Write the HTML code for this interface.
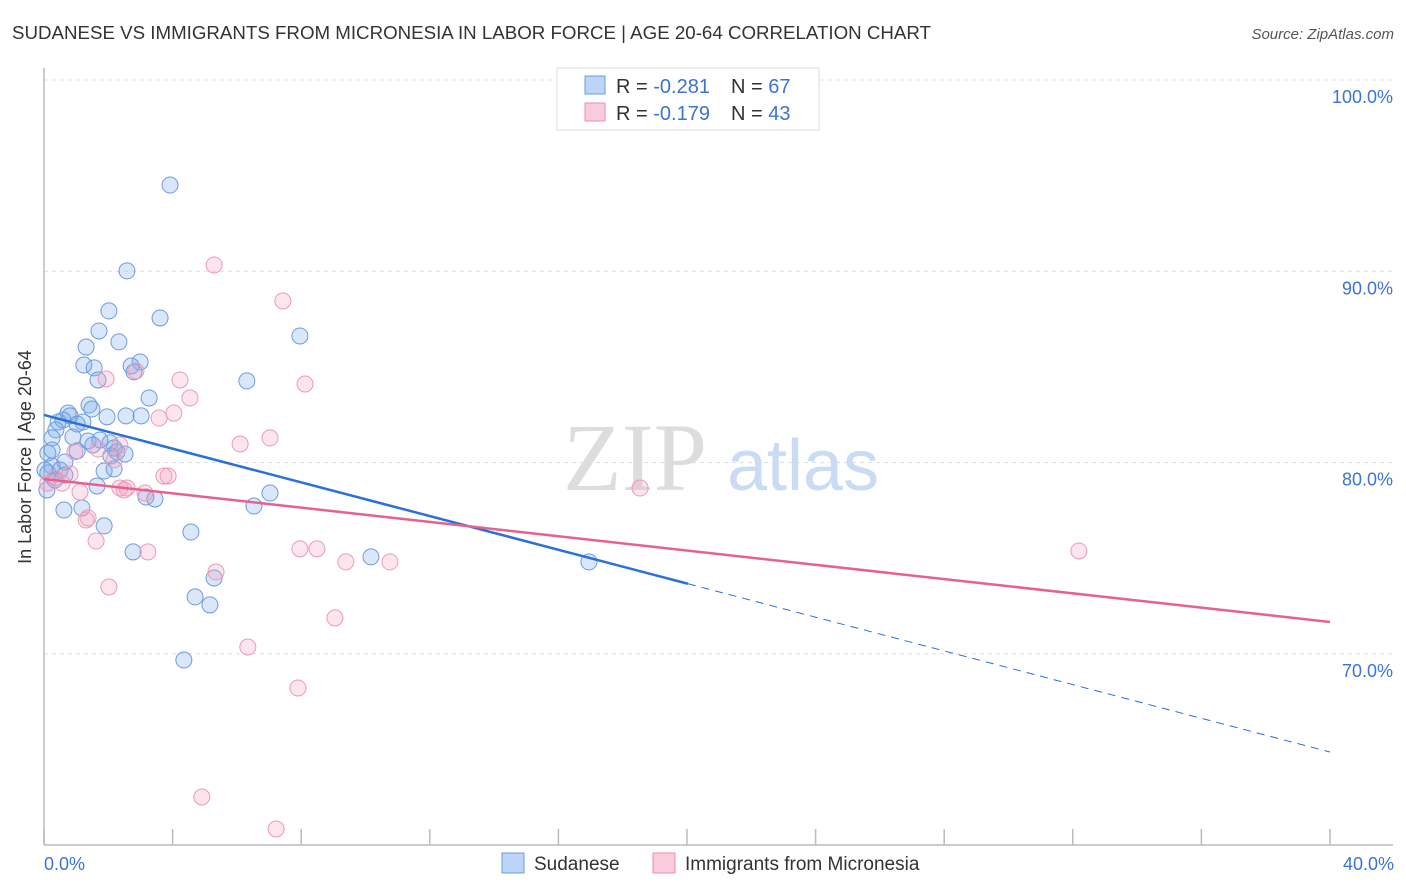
<!DOCTYPE html>
<html><head><meta charset="utf-8"><style>
body{margin:0;background:#fff;font-family:"Liberation Sans",sans-serif}
svg{display:block}
</style></head><body>
<svg width="1406" height="892">
<text x="12" y="39" font-size="18" fill="#333" textLength="919" lengthAdjust="spacingAndGlyphs">SUDANESE VS IMMIGRANTS FROM MICRONESIA IN LABOR FORCE | AGE 20-64 CORRELATION CHART</text>
<text x="1394" y="39" font-size="15" fill="#555" font-style="italic" text-anchor="end">Source: ZipAtlas.com</text>
<g id="grid"></g>
<g><text x="635" y="490" font-size="96" fill="#ddd" font-family="Liberation Serif,serif" text-anchor="middle">ZIP</text><text x="803" y="490" font-size="72" fill="#c9dcf3" text-anchor="middle">atlas</text></g>
<line x1="44" y1="68" x2="44" y2="845" stroke="#bbb" stroke-width="1.5"/>
<line x1="44" y1="845" x2="1393" y2="845" stroke="#bbb" stroke-width="1.5"/>
<g id="ticks"></g>
<g id="pts"></g>
<g id="trends"></g>
<text x="31" y="457" font-size="18" fill="#333" text-anchor="middle" transform="rotate(-90 31 457)">In Labor Force | Age 20-64</text>
<text x="44" y="870" font-size="18" fill="#3b73d6">0.0%</text>
<text x="1394" y="870" font-size="18" fill="#3b73d6" text-anchor="end">40.0%</text>
<g>
<rect x="557" y="68" width="262" height="62" fill="#fff" stroke="#ddd"/>
<rect x="585" y="76" width="20" height="18" fill="#bcd4f5" stroke="#6a9be0"/>
<rect x="585" y="103" width="20" height="18" fill="#f9ccd9" stroke="#eb8fad"/>
<text x="616" y="93" font-size="20" fill="#333">R = <tspan fill="#3b73d6">-0.281</tspan></text>
<text x="731" y="93" font-size="20" fill="#333">N = <tspan fill="#3b73d6">67</tspan></text>
<text x="616" y="120" font-size="20" fill="#333">R = <tspan fill="#3b73d6">-0.179</tspan></text>
<text x="731" y="120" font-size="20" fill="#333">N = <tspan fill="#3b73d6">43</tspan></text>
</g>
<g>
<rect x="502" y="853" width="22" height="20" fill="#bcd4f5" stroke="#6a9be0"/>
<text x="534" y="870" font-size="19" fill="#333">Sudanese</text>
<rect x="653" y="853" width="22" height="20" fill="#f9ccd9" stroke="#eb8fad"/>
<text x="685" y="870" font-size="19" fill="#333">Immigrants from Micronesia</text>
</g>
</svg>
<script>
const blueX=[3.92,2.58,2.02,3.61,1.71,7.96,2.33,1.31,1.24,1.56,2.99,2.71,2.80,1.68,6.31,3.27,1.40,1.49,0.75,0.81,0.59,0.44,1.21,1.03,1.96,2.55,3.02,0.37,0.25,0.90,1.37,1.52,2.05,2.18,2.27,0.12,1.03,2.08,0.65,0.25,1.87,2.18,0.12,0.09,1.65,3.17,3.45,7.03,6.53,0.62,1.18,1.87,4.57,2.77,10.17,16.95,5.29,4.70,5.16,4.35,0.03,0.50,0.34,2.52,0.65,0.25,1.74];
const blueY=[94.51,90.02,87.93,87.56,86.88,86.62,86.31,86.04,85.10,84.95,85.26,85.05,84.74,84.32,84.27,83.38,83.01,82.80,82.59,82.44,82.23,82.12,82.12,82.02,82.39,82.44,82.44,81.71,81.29,81.34,81.13,80.92,81.03,80.76,80.56,80.50,80.61,80.35,80.03,79.82,79.56,79.67,79.46,78.57,78.78,78.20,78.10,78.41,77.73,77.52,77.63,76.69,76.37,75.33,75.07,74.81,73.97,72.98,72.56,69.68,79.61,79.61,79.09,80.45,79.35,80.66,81.18];
const pinkX=[5.29,7.43,1.93,8.12,4.23,2.86,4.54,3.58,4.04,7.03,6.10,2.36,1.68,0.96,2.18,3.73,3.86,0.81,0.34,0.56,0.12,1.12,2.36,2.58,2.49,3.14,18.54,1.37,1.31,1.62,3.23,7.96,8.49,9.39,10.76,32.19,5.35,2.02,9.05,6.34,7.90,4.91,7.22];
const pinkY=[90.33,88.45,84.37,84.11,84.32,84.79,83.38,82.33,82.59,81.29,80.97,80.92,80.71,80.56,80.14,79.30,79.30,79.41,79.20,78.93,78.93,78.46,78.67,78.67,78.57,78.41,78.67,77.11,77.00,75.90,75.33,75.49,75.49,74.81,74.81,75.38,74.28,73.50,71.88,70.36,68.22,62.52,60.85];
const yTicks=[100,90,80,70];
const yTickLabels=["100.0%","90.0%","80.0%","70.0%"];
const xTicks=[0,4,8,12,16,20,24,28,32,36,40];
const blueTrend=[82.49,64.87], pinkTrend=[79.14,71.67], blueSolidEnd=20.03;
const sx=v=>44+v/40*1286, sy=v=>80+(100-v)*19.13;
const NS="http://www.w3.org/2000/svg";
function mk(t,a,p){const e=document.createElementNS(NS,t);for(const k in a)e.setAttribute(k,a[k]);p.appendChild(e);return e;}
const g=document.getElementById('grid');
yTicks.forEach((v,i)=>{
 const l=mk('line',{x1:44,x2:1393,y1:sy(v),y2:sy(v),stroke:'#ddd','stroke-dasharray':'4,4'},g);
 
 
 const t=mk('text',{x:1393,y:sy(v)+23,'font-size':18,fill:'#3b73d6','text-anchor':'end'},g);
 t.textContent=yTickLabels[i];
 
 
});
const tk=document.getElementById('ticks');
xTicks.forEach(v=>{
 const l=mk('line',{x1:sx(v),x2:sx(v),y1:829,y2:845,stroke:'#bbb','stroke-width':1.5},tk);
 
 
});
const pts=document.getElementById('pts');
blueX.forEach((x,i)=>{
 const c=mk('circle',{cx:sx(x),cy:sy(blueY[i]),r:8,fill:'rgba(120,170,235,0.28)',stroke:'#6d9be0','stroke-width':1},pts);
 
 
});
pinkX.forEach((x,i)=>{
 const c=mk('circle',{cx:sx(x),cy:sy(pinkY[i]),r:8,fill:'rgba(245,160,190,0.28)',stroke:'#ee9ab5','stroke-width':1},pts);
 
 
});
const tr=document.getElementById('trends');
const by=x=>blueTrend[0]+(blueTrend[1]-blueTrend[0])*x/40;
let l1=mk('line',{x1:sx(0),y1:sy(by(0)),x2:sx(blueSolidEnd),y2:sy(by(blueSolidEnd)),stroke:'#2a6fdb','stroke-width':2.5},tr);


let l2=mk('line',{x1:sx(blueSolidEnd),y1:sy(by(blueSolidEnd)),x2:sx(40),y2:sy(by(40)),stroke:'#2a6fdb','stroke-width':1,'stroke-dasharray':'8,6'},tr);


let l3=mk('line',{x1:sx(0),y1:sy(pinkTrend[0]),x2:sx(40),y2:sy(pinkTrend[1]),stroke:'#e8608c','stroke-width':2.5},tr);


</script>
</body></html>
